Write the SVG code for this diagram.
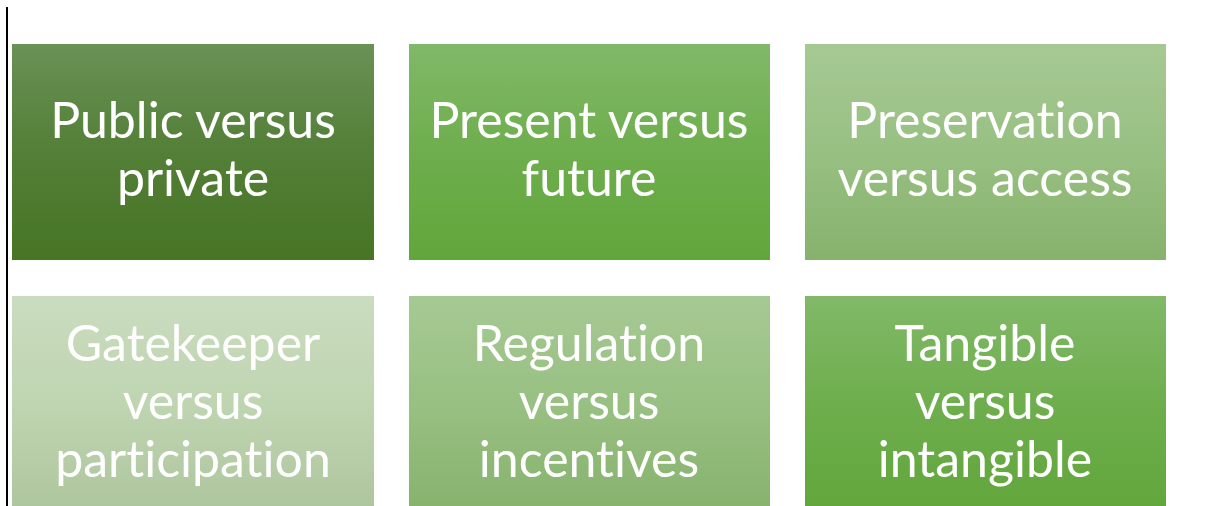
<svg xmlns="http://www.w3.org/2000/svg" width="1223" height="506" viewBox="0 0 1223 506">
<style>
.lbl{font-family:Lato,"Open Sans","Liberation Sans",sans-serif;font-size:50px;fill:#ffffff;text-anchor:middle;font-variant-ligatures:none;font-feature-settings:"liga" 0,"dlig" 0}
</style>
<defs>
<linearGradient id="gDark" x1="0" y1="0" x2="0" y2="1"><stop offset="0" stop-color="#6a9156"/><stop offset="0.5" stop-color="#537f37"/><stop offset="1" stop-color="#467524"/></linearGradient>
<linearGradient id="gMid" x1="0" y1="0" x2="0" y2="1"><stop offset="0" stop-color="#81b968"/><stop offset="0.5" stop-color="#6eae4d"/><stop offset="1" stop-color="#61a63b"/></linearGradient>
<linearGradient id="gLight" x1="0" y1="0" x2="0" y2="1"><stop offset="0" stop-color="#a6c994"/><stop offset="0.5" stop-color="#98c082"/><stop offset="1" stop-color="#87b26d"/></linearGradient>
<linearGradient id="gPale" x1="0" y1="0" x2="0" y2="1"><stop offset="0" stop-color="#cadcbf"/><stop offset="0.5" stop-color="#bfd5b1"/><stop offset="1" stop-color="#adc59d"/></linearGradient>
</defs>
<rect width="1223" height="506" fill="#ffffff"/>
<line x1="7" y1="7" x2="7" y2="506" stroke="#000000" stroke-width="2"/>
<g id="connectors"/>
<g id="n1"><rect x="12" y="44" width="362" height="216" fill="url(#gDark)"/><text class="lbl" x="193" y="138">Public versus</text><text class="lbl" x="193" y="196">private</text></g>
<g id="n2"><rect x="409" y="44" width="361" height="216" fill="url(#gMid)"/><text class="lbl" x="589" y="138">Present versus</text><text class="lbl" x="589" y="196">future</text></g>
<g id="n3"><rect x="805" y="44" width="361" height="216" fill="url(#gLight)"/><text class="lbl" x="985" y="138">Preservation</text><text class="lbl" x="985" y="196">versus access</text></g>
<g id="n4"><rect x="12" y="296" width="362" height="216" fill="url(#gPale)"/><text class="lbl" x="193" y="361">Gatekeeper</text><text class="lbl" x="193" y="419">versus</text><text class="lbl" x="193" y="477">participation</text></g>
<g id="n5"><rect x="409" y="296" width="361" height="216" fill="url(#gLight)"/><text class="lbl" x="589" y="361">Regulation</text><text class="lbl" x="589" y="419">versus</text><text class="lbl" x="589" y="477">incentives</text></g>
<g id="n6"><rect x="805" y="296" width="361" height="216" fill="url(#gMid)"/><text class="lbl" x="985" y="361">Tangible</text><text class="lbl" x="985" y="419">versus</text><text class="lbl" x="985" y="477">intangible</text></g>
</svg>
